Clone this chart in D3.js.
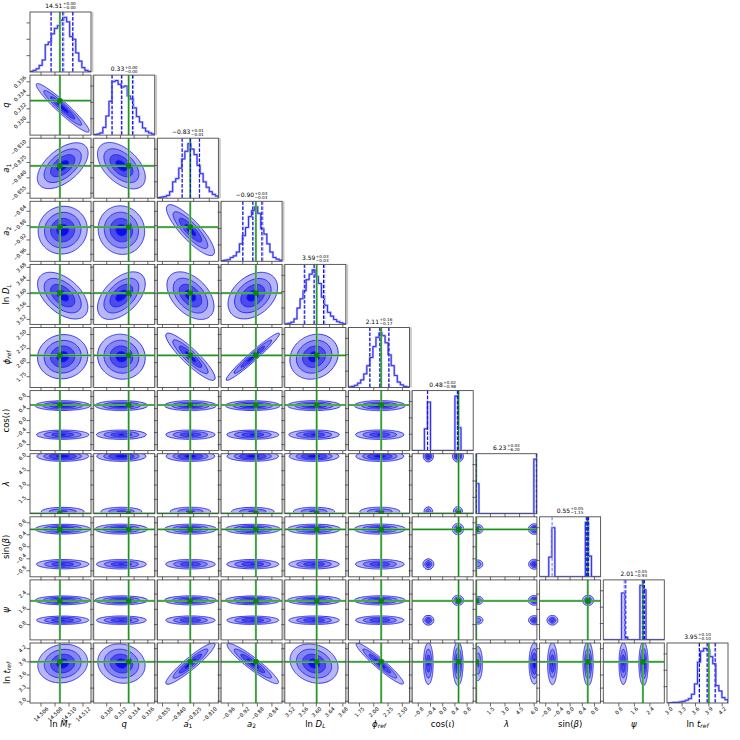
<!DOCTYPE html>
<html>
<head>
<meta charset="utf-8">
<script src="https://cdn.jsdelivr.net/npm/d3@7/dist/d3.min.js"></script>
<style>
  body { margin: 0; background: #fff; }
  svg text { font-family: "DejaVu Sans", sans-serif; fill: #000; }
</style>
</head>
<body>
<div id="chart"></div>
<script>
// order: ln M_T, q, a1, a2, ln D_L, phi_ref, cos(iota), lambda, sin(beta), psi, ln t_ref
const ranges = [
  [14.50443, 14.51314], [0.3281, 0.3370], [-0.8599, -0.8012], [-0.9796, -0.812],
  [3.5046, 3.689], [1.559, 2.625], [-1, 1], [0, 6.2832], [-1, 1], [0, 3.1416], [2.96, 4.33]
];
const ticks = [
  [14.506, 14.508, 14.510, 14.512], [0.330, 0.332, 0.334, 0.336],
  [-0.855, -0.840, -0.825, -0.810], [-0.96, -0.92, -0.88, -0.84],
  [3.52, 3.56, 3.60, 3.64, 3.68], [1.75, 2.00, 2.25, 2.50],
  [-0.8, -0.4, 0.0, 0.4, 0.8], [1.5, 3.0, 4.5, 6.0],
  [-0.8, -0.4, 0.0, 0.4, 0.8], [0.8, 1.6, 2.4], [3.0, 3.3, 3.6, 3.9, 4.2]
];
const tickFormats = [".3f", ".3f", ".3f", ".2f", ".2f", ".2f", ".1f", ".1f", ".1f", ".1f", ".1f"];
const truths = [14.5087, 0.3332, -0.8283, -0.884, 3.601, 2.13, 0.52, 0.03, 0.58, 2.04, 3.90];

const titleMain = ["14.51", "0.33", "−0.83", "−0.90", "3.59", "2.11", "0.48", "6.23", "0.55", "2.01", "3.95"];
const titleUp   = ["0.00", "0.00", "0.01", "0.03", "0.03", "0.16", "0.02", "0.03", "0.05", "0.05", "0.10"];
const titleDown = ["0.00", "0.00", "0.01", "0.03", "0.03", "0.17", "0.98", "6.20", "1.15", "0.93", "0.10"];

// dashed quantile lines (16, 50, 84 %)
const quantDark = [
  [14.50743, 14.50910, 14.51053], [0.33077, 0.33214, 0.33375], [-0.8361, -0.8281, -0.8195],
  [-0.920, -0.8925, -0.8678], [3.565, 3.593, 3.6216], [1.931, 2.106, 2.263],
  [-0.50, 0.48, 0.50], [0.03, 6.23, 6.26], [0.53, 0.56, 0.60], [1.16, 2.05, 2.12], [3.69, 3.86, 4.04]
];
const quantLight = [
  [14.50748, 14.50925, 14.51058], [0.3308, 0.33225, 0.3339], [-0.836, -0.8288, -0.8193],
  [-0.9195, -0.892, -0.865], [3.563, 3.594, 3.625], [1.935, 2.11, 2.27],
  [-0.49, 0.49, 0.52], [0.02, 6.24, 6.27], [-0.59, 0.55, 0.61], [1.08, 2.01, 2.06], [3.68, 3.87, 4.05]
];

// 1D histograms, 20 bins over each range (relative heights)
const hist0 = [0.01,0.03,0.06,0.12,0.22,0.5,0.55,0.7,0.8,0.85,0.95,1.0,0.92,0.65,0.6,0.35,0.2,0.08,0.03,0.01];
const hist1 = [0.01,0.02,0.04,0.14,0.35,0.62,0.98,1.0,0.93,0.88,0.9,0.72,0.66,0.5,0.34,0.24,0.13,0.07,0.04,0.02];
const hist2 = [0.01,0.02,0.03,0.05,0.12,0.3,0.36,0.55,0.72,0.86,1.0,0.9,0.8,0.6,0.45,0.3,0.2,0.12,0.07,0.04];
const hist3 = [0.01,0.02,0.03,0.07,0.1,0.17,0.32,0.47,0.62,0.82,0.93,1.0,0.88,0.6,0.5,0.32,0.17,0.07,0.04,0.02];
const hist4 = [0.01,0.02,0.04,0.1,0.3,0.47,0.62,0.82,0.92,1.0,0.88,0.75,0.5,0.35,0.22,0.15,0.09,0.05,0.03,0.01];
const hist5 = [0.01,0.02,0.04,0.08,0.14,0.25,0.4,0.55,0.75,0.92,1.0,0.95,0.82,0.6,0.4,0.22,0.1,0.05,0.02,0.01];
const hist6 = [0,0,0,0,0.4,0.89,0,0,0,0,0,0,0,0,1.0,0.42,0,0,0,0];
const hist7 = [0.55,0,0,0,0,0,0,0,0,0,0,0,0,0,0,0,0,0,0,1.0];
const hist8 = [0,0,0,0.36,0.9,0,0,0,0,0,0,0,0,0,0,1.0,0.38,0,0,0];
const hist9 = [0,0,0,0,0,0,0.86,0.05,0,0,0,0,1.0,0.92,0,0,0,0,0,0];
const hist10 = [0,0.005,0.01,0.01,0.02,0.03,0.05,0.08,0.16,0.35,0.75,0.95,1.0,0.98,0.85,0.72,0.32,0.22,0.1,0.06];
const hists = [hist0, hist1, hist2, hist3, hist4, hist5, hist6, hist7, hist8, hist9, hist10];
const histTickShare = [0.3, 0.6, 0.9];

// 2D posterior read as two sky modes (A, B); lambda splits into two edge peaks
const modeWeights = [0.55, 0.45];
const centerA = [14.5091, 0.33214, -0.8281, -0.8925, 3.593, 2.106, 0.50, null, 0.59, 2.07, 3.86];
const centerB = [14.5091, 0.33214, -0.8281, -0.8925, 3.593, 2.106, -0.47, null, -0.58, 1.03, 3.86];
// widths
const spreads2d = [0.0021, 0.0020, 0.013, 0.040, 0.042, 0.23, 0.085, 0.30, 0.085, 0.12, 0.26];
const lambdaPeaks = [6.02, 0.22];
const lambdaPeakWeights = [0.65, 0.35];
// core + broad wing of every mode
const coreShare = [0.7, 0.3];
const coreScale = [0.75, 1.6];
const correlations = [
  [0,1,-0.95],[0,2,0.55],[1,2,-0.5],[0,3,0.05],[1,3,-0.05],[2,3,-0.85],
  [0,4,-0.5],[1,4,0.5],[2,4,-0.45],[3,4,0.35],[0,5,0.05],[1,5,-0.05],
  [2,5,-0.9],[3,5,0.97],[4,5,0.15],[0,10,0.1],[1,10,-0.1],[2,10,0.93],
  [3,10,-0.93],[4,10,-0.2],[5,10,-0.95]
];
const sigmaLevels = [0.5, 1.0, 1.5, 2.0];

const axisLabels = [
  [["ln ", "n"], ["M", "i"], ["T", "si"]],
  [["q", "i"]],
  [["a", "i"], ["1", "s"]],
  [["a", "i"], ["2", "s"]],
  [["ln ", "n"], ["D", "i"], ["L", "si"]],
  [["ϕ", "i"], ["ref", "si"]],
  [["cos(", "n"], ["ι", "i"], [")", "n"]],
  [["λ", "i"]],
  [["sin(", "n"], ["β", "i"], [")", "n"]],
  [["ψ", "i"]],
  [["ln ", "n"], ["t", "i"], ["ref", "si"]]
];

const nP = ranges.length;
const cellW = 61, cellH = 60, pitchX = 63.7, pitchY = 63.1, left0 = 30, top0 = 12;
const N = 60, M = 4, NG = N + 2 * M;
const fills = ["#b7b7f7", "#8585f3", "#4b4bee", "#0c0cf0"];
const lineBlue = "#2424e6";

const cellX = i => left0 + i * pitchX;
const cellY = j => top0 + j * pitchY;
const xScales = ranges.map(r => d3.scaleLinear().domain(r).range([0, cellW]));
const yScales = ranges.map(r => d3.scaleLinear().domain(r).range([cellH, 0]));
const massLevels = sigmaLevels.map(s => 1 - Math.exp(-0.5 * s * s));

const svg = d3.select("#chart").append("svg").attr("width", 740).attr("height", 740);

function corr(i, j) {
  const c = correlations.find(d => (d[0] === i && d[1] === j) || (d[0] === j && d[1] === i));
  return c ? c[2] : 0;
}

function paramModes(p, m) {
  if (p === 7) return lambdaPeaks.map((mu, k) => ({ w: lambdaPeakWeights[k], mu: mu }));
  return [{ w: 1, mu: m === 0 ? centerA[p] : centerB[p] }];
}

// density on a grid a little larger than the panel; the outer ring is zero so every contour closes
function panelDensity(i, j) {
  const comps = [];
  const r = corr(i, j);
  modeWeights.forEach((mw, m) => {
    paramModes(i, m).forEach(cx => paramModes(j, m).forEach(cy => {
      coreShare.forEach((cw, c) => {
        comps.push({
          w: mw * cx.w * cy.w * cw, mx: cx.mu, my: cy.mu, r: r,
          sx: spreads2d[i] * coreScale[c], sy: spreads2d[j] * coreScale[c]
        });
      });
    }));
  });
  const [x0, x1] = ranges[i], [y0, y1] = ranges[j];
  const vals = new Array(NG * NG).fill(0);
  const inside = [];
  for (let l = 1; l < NG - 1; l++) {
    const yv = y1 - (l - M + 0.5) / N * (y1 - y0);
    for (let k = 1; k < NG - 1; k++) {
      const xv = x0 + (k - M + 0.5) / N * (x1 - x0);
      let s = 0;
      comps.forEach(c => {
        const zx = (xv - c.mx) / c.sx, zy = (yv - c.my) / c.sy, q = 1 - c.r * c.r;
        s += c.w / (c.sx * c.sy * Math.sqrt(q)) * Math.exp(-(zx * zx - 2 * c.r * zx * zy + zy * zy) / (2 * q));
      });
      vals[k + l * NG] = s;
      if (k >= M && k < M + N && l >= M && l < M + N) inside.push(s);
    }
  }
  return { vals, inside };
}

function thresholdsFor(inside) {
  const sorted = inside.slice().sort((a, b) => b - a);
  const total = d3.sum(sorted);
  const cum = d3.cumsum(sorted);
  return massLevels.map(lv => {
    let idx = cum.findIndex(c => c >= lv * total);
    if (idx < 0) idx = sorted.length - 1;
    return sorted[idx];
  }).reverse();
}

const gridPath = d3.geoPath(d3.geoTransform({
  point: function (x, y) { this.stream.point((x - M) * cellW / N, (y - M) * cellH / N); }
}));

function greenLine(g, x1, y1, x2, y2) {
  g.append("line").attr("x1", x1).attr("y1", y1).attr("x2", x2).attr("y2", y2)
    .attr("stroke", "#88c888").attr("stroke-width", 2.2);
  g.append("line").attr("x1", x1).attr("y1", y1).attr("x2", x2).attr("y2", y2)
    .attr("stroke", "#128a12").attr("stroke-width", 1);
}

function drawHist(inner, g, i) {
  const counts = hists[i];
  const x = xScales[i];
  const y = d3.scaleLinear().domain([0, 1.1 * d3.max(counts)]).range([cellH, 0]);
  const nb = counts.length;
  const edges = d3.range(nb + 1).map(k => ranges[i][0] + k * (ranges[i][1] - ranges[i][0]) / nb);
  const pts = [[edges[0], 0]].concat(counts.map((c, k) => [edges[k], c]),
    [[edges[nb], counts[nb - 1]], [edges[nb], 0]]);
  const line = d3.line().x(d => x(d[0])).y(d => y(d[1])).curve(d3.curveStepAfter);
  inner.append("path").attr("d", line(pts)).attr("fill", "none")
    .attr("stroke", "#a8a8fb").attr("stroke-width", 2.2);
  inner.append("path").attr("d", line(pts)).attr("fill", "none")
    .attr("stroke", "#3030ee").attr("stroke-width", 1);
  quantLight[i].forEach(v => {
    inner.append("line").attr("x1", x(v)).attr("x2", x(v)).attr("y1", 0).attr("y2", cellH)
      .attr("stroke", "#8e8efc").attr("stroke-width", 1.3).attr("stroke-dasharray", "3.5,1.6");
  });
  greenLine(inner, x(truths[i]), 0, x(truths[i]), cellH);
  quantDark[i].forEach(v => {
    inner.append("line").attr("x1", x(v)).attr("x2", x(v)).attr("y1", 0).attr("y2", cellH)
      .attr("stroke", "#0a0ae6").attr("stroke-width", 1).attr("stroke-dasharray", "3.5,1.6");
  });
  histTickShare.forEach(t => {
    const yy = y(t * d3.max(counts));
    g.append("line").attr("x1", -3.5).attr("x2", 0).attr("y1", yy).attr("y2", yy)
      .attr("stroke", "#444").attr("stroke-width", 0.8);
  });
  // title
  const tx = cellW / 2, ty = -4;
  const tg = g.append("g");
  const main = tg.append("text").attr("font-size", 6).attr("y", ty).text(titleMain[i]);
  const up = tg.append("text").attr("font-size", 4.2).attr("y", ty - 2.6).text("+" + titleUp[i]);
  const down = tg.append("text").attr("font-size", 4.2).attr("y", ty + 1.4).text("−" + titleDown[i]);
  const wm = main.node().getComputedTextLength();
  const ws = Math.max(up.node().getComputedTextLength(), down.node().getComputedTextLength());
  const startX = tx - (wm + ws + 0.5) / 2;
  main.attr("x", startX);
  up.attr("x", startX + wm + 0.5);
  down.attr("x", startX + wm + 0.5);
}

function drawPair(inner, g, i, j) {
  const { vals, inside } = panelDensity(i, j);
  const th = thresholdsFor(inside);
  const contours = d3.contours().size([NG, NG]).thresholds(th)(vals);
  contours.forEach((c, k) => {
    inner.append("path").attr("d", gridPath(c)).attr("fill", fills[k]).attr("stroke", "none");
  });
  contours.forEach(c => {
    inner.append("path").attr("d", gridPath(c)).attr("fill", "none")
      .attr("stroke", lineBlue).attr("stroke-width", 0.9);
  });
  const tx = xScales[i](truths[i]), ty = yScales[j](truths[j]);
  greenLine(inner, tx, 0, tx, cellH);
  greenLine(inner, 0, ty, cellW, ty);
  inner.append("circle").attr("cx", tx).attr("cy", ty).attr("r", 2.8).attr("fill", "#0a870a");
  ticks[j].forEach(t => {
    const yy = yScales[j](t);
    g.append("line").attr("x1", -3.5).attr("x2", 0).attr("y1", yy).attr("y2", yy)
      .attr("stroke", "#444").attr("stroke-width", 0.8);
  });
}

function addLabel(textSel, segs, fs) {
  let inSub = false;
  segs.forEach(([txt, st]) => {
    const sub = st === "s" || st === "si";
    const ts = textSel.append("tspan").text(txt);
    if (st === "i" || st === "si") ts.attr("font-style", "italic");
    if (sub) {
      ts.attr("font-size", fs * 0.7);
      if (!inSub) ts.attr("dy", fs * 0.22);
    } else if (inSub) {
      ts.attr("dy", -fs * 0.22);
    }
    inSub = sub;
  });
}

for (let j = 0; j < nP; j++) {
  for (let i = 0; i <= j; i++) {
    const g = svg.append("g").attr("transform", `translate(${cellX(i)},${cellY(j)})`);
    const clipId = `clip-${i}-${j}`;
    g.append("clipPath").attr("id", clipId).append("rect").attr("width", cellW).attr("height", cellH);
    const inner = g.append("g").attr("clip-path", `url(#${clipId})`);
    if (i === j) drawHist(inner, g, i); else drawPair(inner, g, i, j);
    ticks[i].forEach(t => {
      const xx = xScales[i](t);
      g.append("line").attr("x1", xx).attr("x2", xx).attr("y1", cellH).attr("y2", cellH + 3.5)
        .attr("stroke", "#444").attr("stroke-width", 0.8);
    });
    if (i <= 5) {
      g.append("rect").attr("x", cellW + 0.6).attr("y", 0).attr("width", 1.8).attr("height", cellH)
        .attr("fill", "#c8c8c8");
    }
    g.append("rect").attr("width", cellW).attr("height", cellH)
      .attr("fill", "none").attr("stroke", "#4a4a4a").attr("stroke-width", 0.9);
  }
}

// tick labels
const tickFs = 5.2;
const diag = Math.SQRT1_2;
for (let i = 0; i < nP; i++) {
  const fmt = d3.format(tickFormats[i]);
  const baseY = cellY(nP - 1) + cellH + 3;
  ticks[i].forEach(t => {
    const txt = svg.append("text").attr("font-size", tickFs).attr("text-anchor", "middle")
      .attr("dominant-baseline", "central").text(fmt(t));
    const L = txt.node().getComputedTextLength();
    const half = (L + tickFs) * diag / 2;
    const px = cellX(i) + xScales[i](t), py = baseY + half;
    txt.attr("x", px).attr("y", py).attr("transform", `rotate(-45,${px},${py})`);
  });
}
for (let j = 1; j < nP; j++) {
  const fmt = d3.format(tickFormats[j]);
  const rightX = cellX(0) - 3;
  ticks[j].forEach(t => {
    const txt = svg.append("text").attr("font-size", tickFs).attr("text-anchor", "middle")
      .attr("dominant-baseline", "central").text(fmt(t));
    const L = txt.node().getComputedTextLength();
    const half = (L + tickFs) * diag / 2;
    const px = rightX - half, py = cellY(j) + yScales[j](t);
    txt.attr("x", px).attr("y", py).attr("transform", `rotate(-45,${px},${py})`);
  });
}

// axis labels
const labelFs = 8.5;
for (let i = 0; i < nP; i++) {
  const t = svg.append("text").attr("font-size", labelFs).attr("text-anchor", "middle")
    .attr("x", cellX(i) + cellW / 2).attr("y", cellY(nP - 1) + cellH + 23.5);
  addLabel(t, axisLabels[i], labelFs);
}
for (let j = 1; j < nP; j++) {
  const cx = 9.5, cy = cellY(j) + cellH / 2;
  const t = svg.append("text").attr("font-size", labelFs).attr("text-anchor", "middle")
    .attr("x", cx).attr("y", cy).attr("transform", `rotate(-90,${cx},${cy})`);
  addLabel(t, axisLabels[j], labelFs);
}
</script>
</body>
</html>
